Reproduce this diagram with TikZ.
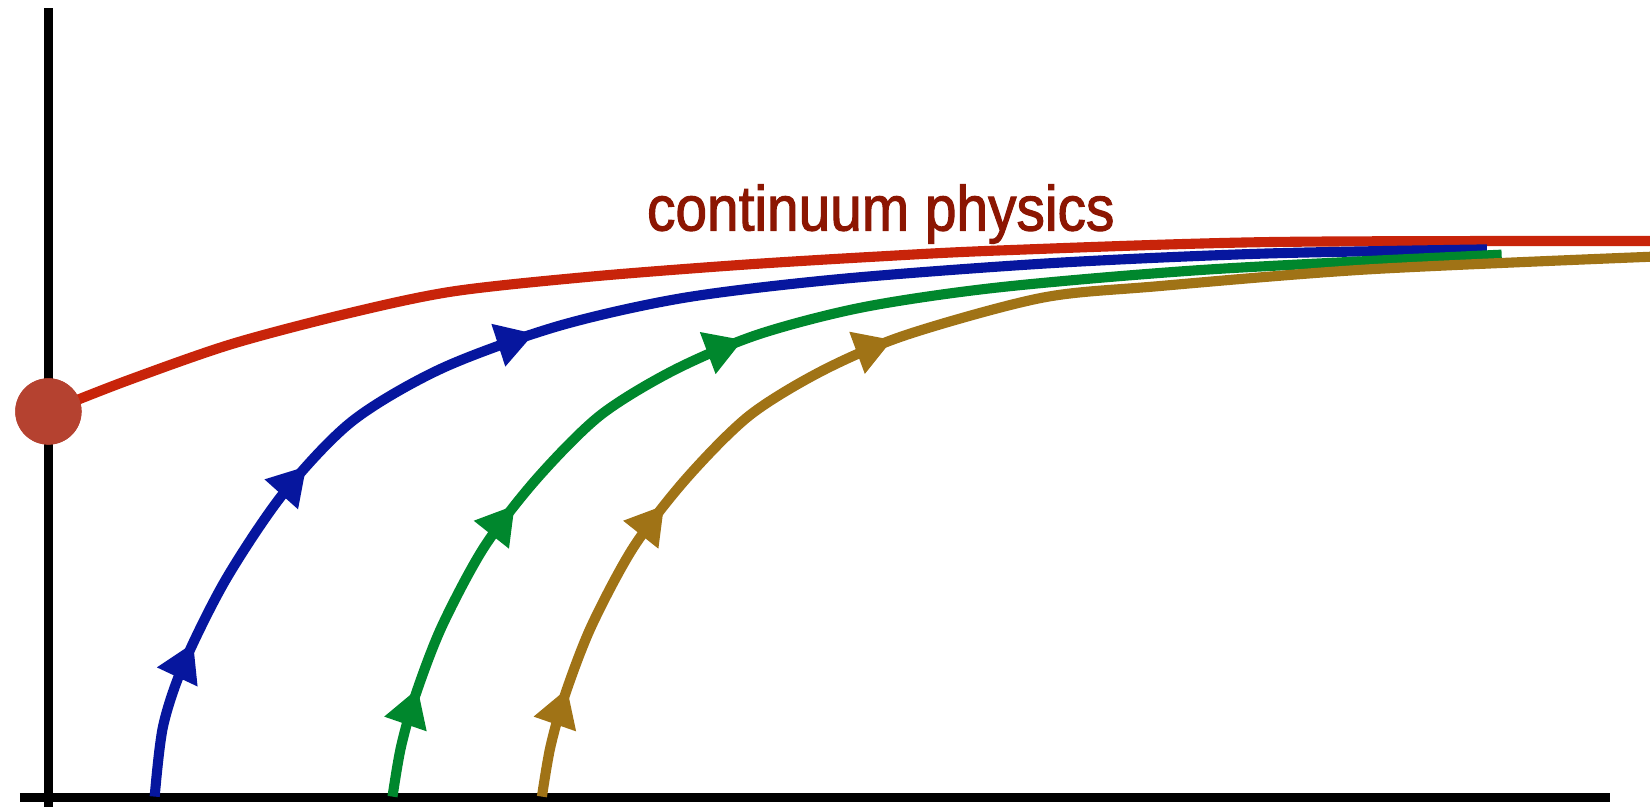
\documentclass[tikz,border=0pt]{standalone}
\usepackage{fontspec}
\newfontfamily\labelfont[FakeBold=1.8]{Liberation Sans}
\usetikzlibrary{arrows.meta,decorations.markings}

\definecolor{flowred}{RGB}{200,36,10}
\definecolor{flowblue}{RGB}{6,22,158}
\definecolor{flowgreen}{RGB}{0,135,45}
\definecolor{flowgold}{RGB}{160,115,22}
\definecolor{labelred}{RGB}{140,22,2}
\definecolor{dotred}{RGB}{181,66,48}

\tikzset{
  axis/.style={line width=4.4pt},
  flow/.style={line width=4.8pt, line join=round},
  tri/.tip={Triangle[length=18pt,width=20pt]},
  marks/.style args={#1/#2/#3}{postaction={decorate},
    decoration={markings,
      mark=at position #1 with {\arrow{tri}},
      mark=at position #2 with {\arrow{tri}},
      mark=at position #3 with {\arrow{tri}}}}
}

\begin{document}
\begin{tikzpicture}[x=0.5pt,y=-0.5pt]
  \useasboundingbox (0,0) rectangle (1568,767);
  % Axes
  \draw[axis] (46,7.6) -- (46,767);
  \draw[axis] (19,757.5) -- (1530,757.5);
  % Fixed point and its label
  \node[circle,fill=dotred,inner sep=0pt,minimum size=31.5pt] (fixedpt) at (46,391) {};
  \node[font=\labelfont\fontsize{27pt}{32pt}\selectfont,text=labelred,
        anchor=base,yscale=1.12] (label) at (837,219) {continuum physics};
  % Continuum line
  \draw[flow,flowred] plot[smooth,tension=0.5] coordinates {(46,391)
    (120,362) (220,327) (330,298) (430,277) (560,263) (700,252)
    (830,244) (950,238) (1207,230) (1568,229)};
  % Flows towards it
  \draw[flow,flowblue,marks=76pt/176pt/303pt] plot[smooth,tension=0.5]
    coordinates {(147,757) (155,690) (175,630) (215,550) (270,468) (335,400)
    (420,350) (530,310) (650,283) (800,265) (1000,250) (1200,241) (1413,237)};
  \draw[flow,flowgreen,marks=53pt/152pt/288pt] plot[smooth,tension=0.5]
    coordinates {(373,757) (381,710) (395,660) (420,595) (460,520) (510,455)
    (570,395) (640,352) (720,318) (820,292) (950,273) (1150,256) (1427,242)};
  \draw[flow,flowgold,marks=53pt/152pt/288pt] plot[smooth,tension=0.5]
    coordinates {(515,757) (523,710) (537,660) (562,595) (602,520) (652,455)
    (712,395) (782,352) (862,318) (990,283) (1100,272) (1300,256) (1568,244)};
  % Dot on top
  \fill[dotred] (fixedpt.center) circle (15.75pt);
\end{tikzpicture}
\end{document}
